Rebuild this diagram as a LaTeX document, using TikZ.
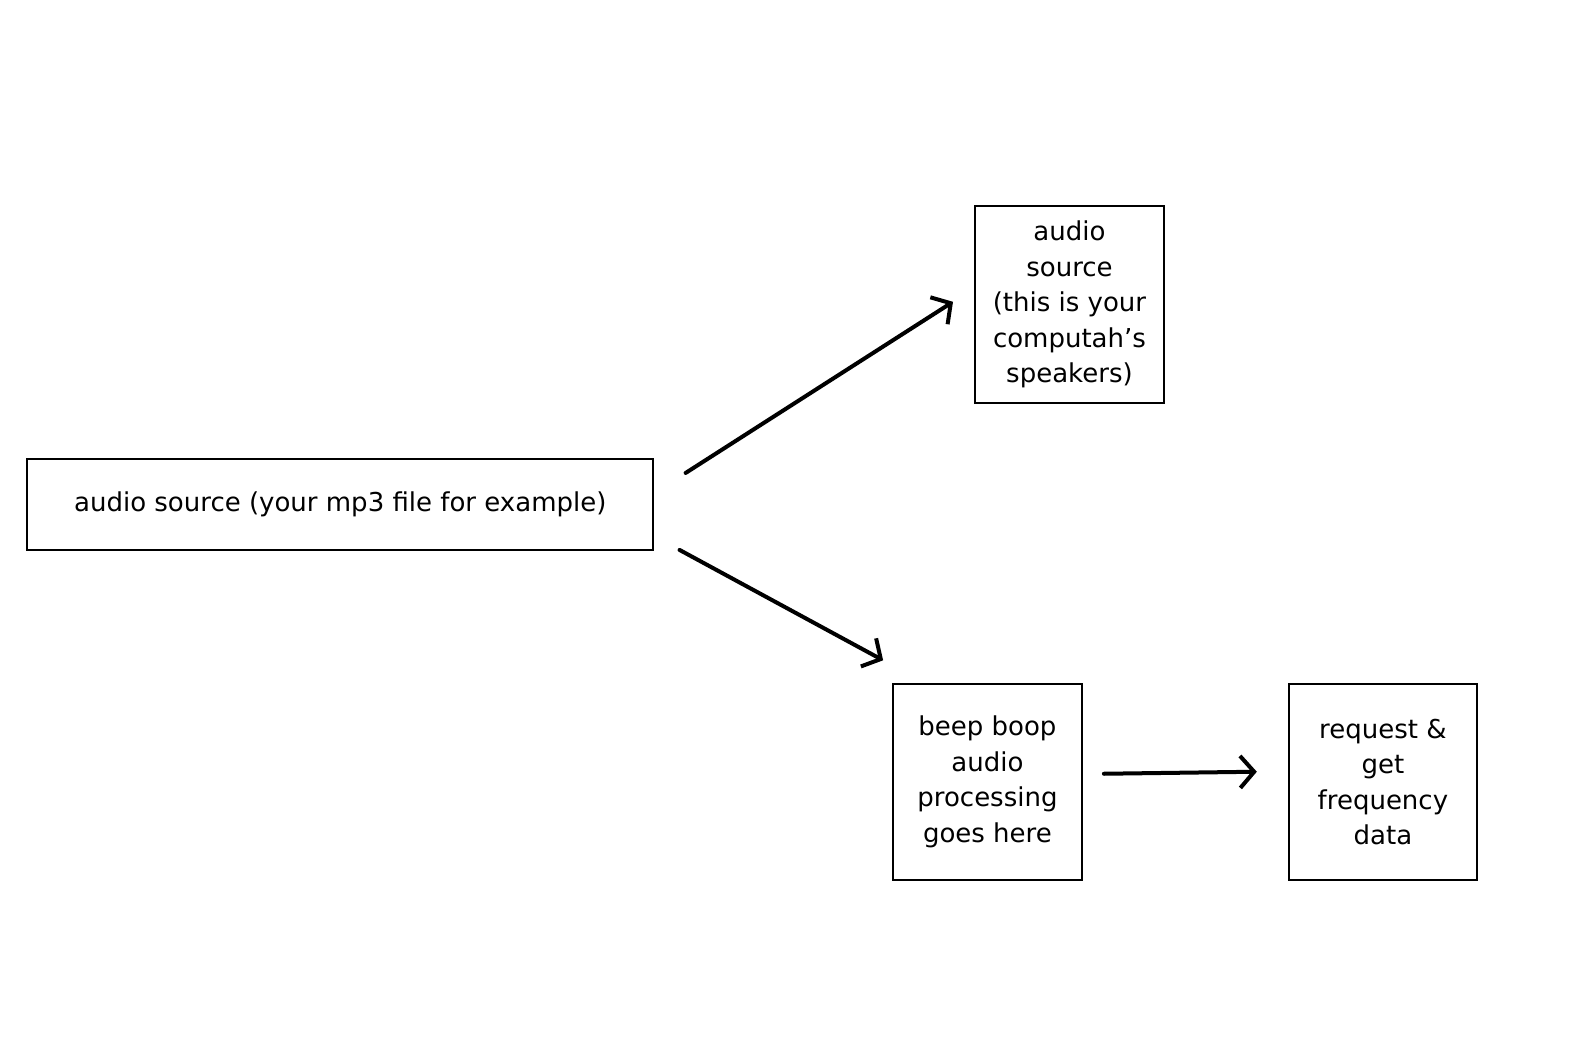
\documentclass[tikz,border=0pt]{standalone}
\usepackage{fontspec}
\setmainfont{DejaVu Sans}
\usetikzlibrary{arrows.meta}
\begin{document}
\begin{tikzpicture}[x=1.01276pt,y=-1.01276pt,
  box/.style={draw=black,line width=2pt,inner sep=0pt,align=center,
    font=\fontsize{26}{35.5}\selectfont},
  conn/.style={line width=4pt,-{Straight Barb[length=14pt,width=32pt,line width=4pt]},line cap=round}]
\useasboundingbox (0,0) rectangle (1568,1030.85);
\node[box,minimum width=625.9pt,minimum height=91.1pt] (src) at (336,498) {audio source (your mp3 file for example)};
\node[box,minimum width=188.4pt,minimum height=197.5pt] (spk) at (1056,300.5) {audio\\source\\(this is your\\computah’s\\speakers)};
\node[box,minimum width=188.4pt,minimum height=196.5pt] (beep) at (975,772) {beep boop\\audio\\processing\\goes here};
\node[box,minimum width=187.4pt,minimum height=196.5pt] (req) at (1365.5,772) {request \&\\get\\frequency\\data};
\coordinate (a1s) at (677,467);
\coordinate (a1e) at (941,298);
\coordinate (a2s) at (671,543);
\coordinate (a2e) at (872,652);
\coordinate (a3s) at (1090,764);
\coordinate (a3e) at (1241,762);
\draw[conn] (a1s) -- (a1e);
\draw[conn] (a2s) -- (a2e);
\draw[conn] (a3s) -- (a3e);
\end{tikzpicture}
\end{document}
